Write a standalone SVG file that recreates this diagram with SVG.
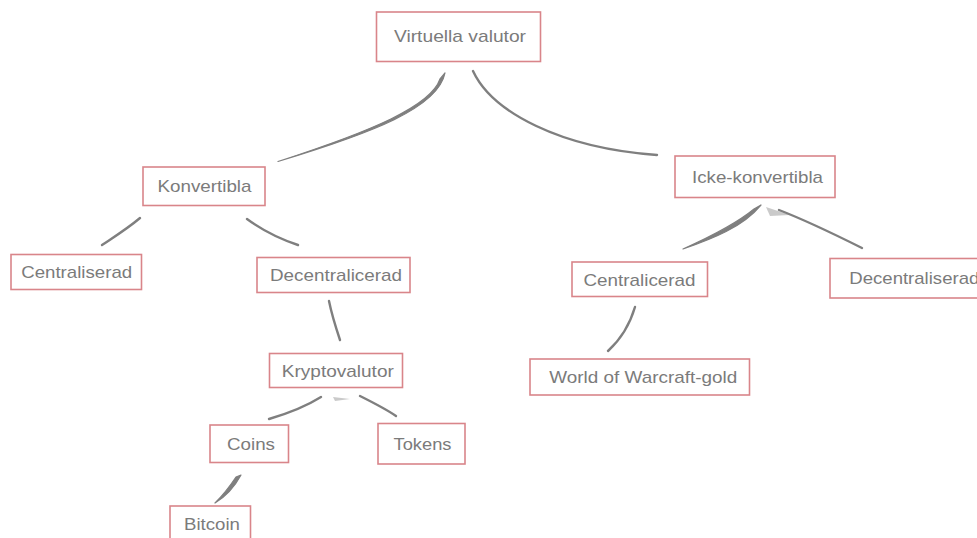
<svg xmlns="http://www.w3.org/2000/svg" width="977" height="538" viewBox="0 0 977 538">
<style>
.box{fill:#fff;stroke:#d9858a;stroke-width:1.6}
.lbl{font-family:"Liberation Sans",Arial,sans-serif;font-size:17px;fill:#7b7b7b;text-anchor:middle}
.c{fill:none;stroke:#7f7f7f;stroke-width:2.4;stroke-linecap:round}
.t{fill:#7f7f7f;stroke:#7f7f7f;stroke-width:1.2;stroke-linejoin:round}
.smudge{fill:#bdbdbd;stroke:none;opacity:0.8}
</style>
<rect width="977" height="538" fill="#fff"/>
<g id="connectors">
<path class="t" d="M445,73 C438,108 372,133 278,161.5 C372,131 431,106 440,79 Z"/>
<path class="c" d="M473,71 C492,112 560,148 657,155"/>
<path class="c" d="M140,218 C127,229 114,237 102,245"/>
<path class="c" d="M247,219 C262,230 280,239 298,245"/>
<path class="t" d="M761,205 C743,227 712,239 683,249 C712,236 737,223 754,209 Z"/>
<path class="smudge" d="M766,207 L790,215 L770,216 Z"/>
<path class="c" d="M779,210 C810,222 838,236 862,248"/>
<path class="c" d="M329,301 C332,316 336,328 340,340"/>
<path class="c" d="M321,397 C305,407 286,414 269,419"/>
<path class="smudge" d="M333,397 L350,399 L335,401 Z"/>
<path class="c" d="M360,396 C374,403 386,409 396,416"/>
<path class="t" d="M241,475 C234,488 225,497 215,503 C223,495 230,486 236,477 Z"/>
<path class="c" d="M635,307 C630,324 620,340 608,351"/>
</g>
<g id="virtuella-valutor"><rect class="box" x="376.5" y="12" width="164" height="49.5"/><text class="lbl" x="460" y="42" textLength="132" lengthAdjust="spacingAndGlyphs">Virtuella valutor</text></g>
<g id="konvertibla"><rect class="box" x="143" y="167" width="122" height="38.5"/><text class="lbl" x="204.5" y="191.5" textLength="94" lengthAdjust="spacingAndGlyphs">Konvertibla</text></g>
<g id="icke-konvertibla"><rect class="box" x="675" y="156" width="160" height="41.5"/><text class="lbl" x="757.5" y="182.5" textLength="131" lengthAdjust="spacingAndGlyphs">Icke-konvertibla</text></g>
<g id="centraliserad"><rect class="box" x="11" y="254.5" width="130.5" height="35"/><text class="lbl" x="76.7" y="278" textLength="111" lengthAdjust="spacingAndGlyphs">Centraliserad</text></g>
<g id="decentralicerad-1"><rect class="box" x="257" y="257.5" width="153" height="35"/><text class="lbl" x="336" y="281" textLength="132" lengthAdjust="spacingAndGlyphs">Decentralicerad</text></g>
<g id="centralicerad"><rect class="box" x="572" y="262" width="135.5" height="34.5"/><text class="lbl" x="639.5" y="285.5" textLength="112" lengthAdjust="spacingAndGlyphs">Centralicerad</text></g>
<g id="decentraliserad-2"><rect class="box" x="830" y="258.5" width="160" height="39.5"/><text class="lbl" x="849.3" y="284" textLength="130" lengthAdjust="spacingAndGlyphs" style="text-anchor:start">Decentraliserad</text></g>
<g id="kryptovalutor"><rect class="box" x="269.5" y="353.5" width="133" height="34"/><text class="lbl" x="337.8" y="376.5" textLength="112" lengthAdjust="spacingAndGlyphs">Kryptovalutor</text></g>
<g id="world-of-warcraft-gold"><rect class="box" x="530" y="359" width="219.5" height="36"/><text class="lbl" x="643.3" y="383" textLength="188" lengthAdjust="spacingAndGlyphs">World of Warcraft-gold</text></g>
<g id="coins"><rect class="box" x="210" y="425" width="78.5" height="37.5"/><text class="lbl" x="251" y="449.5" textLength="48" lengthAdjust="spacingAndGlyphs">Coins</text></g>
<g id="tokens"><rect class="box" x="378" y="423.5" width="87" height="40.5"/><text class="lbl" x="422.5" y="449.5" textLength="58" lengthAdjust="spacingAndGlyphs">Tokens</text></g>
<g id="bitcoin"><rect class="box" x="170" y="506" width="80.5" height="40"/><text class="lbl" x="212" y="530" textLength="56" lengthAdjust="spacingAndGlyphs">Bitcoin</text></g>
</svg>
